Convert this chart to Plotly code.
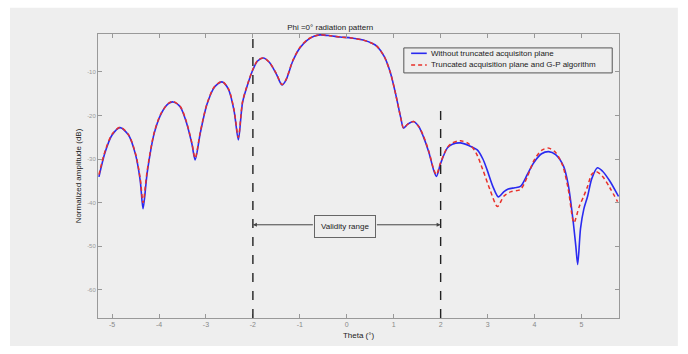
import plotly.graph_objects as go

theta_ref = [-5.28, -5.15, -5.0, -4.83, -4.65, -4.5, -4.40, -4.34, -4.25, -4.1, -3.95, -3.8, -3.70,
             -3.55, -3.42, -3.30, -3.23, -3.12, -2.98, -2.82, -2.66, -2.52, -2.40, -2.31, -2.22,
             -2.10, -2.0, -1.90, -1.78, -1.65, -1.50, -1.38, -1.30, -1.15, -1.0, -0.84, -0.70,
             -0.57, -0.35, -0.14, 0.1, 0.35, 0.55, 0.65, 0.80, 0.93, 1.05, 1.15, 1.21, 1.30,
             1.42, 1.53, 1.63, 1.75, 1.85, 1.91, 2.00, 2.14, 2.25, 2.42, 2.60, 2.78, 2.90,
             2.99, 3.12, 3.23, 3.35, 3.44, 3.58, 3.70, 3.85, 3.98, 4.15, 4.30, 4.45, 4.62,
             4.72, 4.82, 4.88, 4.92, 4.98, 5.05, 5.13, 5.22, 5.34, 5.45, 5.60, 5.79]
amp_ref = [-34.1, -28.5, -24.5, -22.8, -24.5, -29.0, -35.0, -41.4, -33.0, -24.0, -19.5, -17.3, -16.9,
           -18.0, -21.5, -26.5, -30.2, -24.0, -17.5, -13.5, -12.3, -14.0, -19.0, -25.6, -17.0,
           -12.5, -9.5, -7.5, -6.8, -7.8, -10.5, -13.0, -12.0, -7.5, -4.5, -2.7, -1.8,
           -1.5, -1.7, -2.0, -2.2, -2.7, -3.5, -4.2, -6.5, -10.2, -15.5, -20.5, -22.9, -22.0,
           -21.4, -22.5, -24.8, -28.5, -32.5, -34.0, -31.0, -27.5, -26.6, -26.3, -26.9, -27.9, -30.0,
           -32.5, -36.5, -38.7, -37.5, -36.9, -36.6, -36.3, -33.5, -30.9, -28.8, -28.3, -29.0, -31.7,
           -36.0, -44.0, -50.0, -54.2, -46.0, -41.5, -38.6, -34.5, -32.0, -32.8, -35.0, -38.6]

theta_gp = [-5.28, -5.15, -5.0, -4.83, -4.65, -4.5, -4.40, -4.34, -4.25, -4.1, -3.95, -3.8, -3.70,
            -3.55, -3.42, -3.30, -3.23, -3.12, -2.98, -2.82, -2.66, -2.52, -2.40, -2.31, -2.22,
            -2.10, -2.0, -1.90, -1.78, -1.65, -1.50, -1.38, -1.30, -1.15, -1.0, -0.84, -0.70,
            -0.57, -0.35, -0.14, 0.1, 0.35, 0.55, 0.65, 0.80, 0.93, 1.05, 1.15, 1.21, 1.30,
            1.42, 1.53, 1.63, 1.75, 1.85, 1.91, 2.00, 2.14, 2.25, 2.42, 2.60, 2.75, 2.90,
            3.05, 3.21, 3.35, 3.50, 3.70, 3.85, 3.98, 4.15, 4.30, 4.45, 4.60, 4.72, 4.84,
            4.95, 5.05, 5.13, 5.22, 5.32, 5.45, 5.60, 5.77]
amp_gp = [-33.6, -28.2, -24.3, -22.7, -24.4, -28.8, -34.5, -40.0, -32.5, -23.8, -19.4, -17.2, -16.8,
          -17.9, -21.3, -26.3, -29.8, -23.8, -17.4, -13.4, -12.2, -13.9, -18.8, -25.0, -16.8,
          -12.4, -9.4, -7.4, -6.8, -7.8, -10.4, -12.9, -11.9, -7.4, -4.4, -2.6, -1.8,
          -1.5, -1.7, -2.0, -2.2, -2.7, -3.5, -4.2, -6.5, -10.2, -15.5, -20.5, -22.9, -22.0,
          -21.4, -22.5, -24.6, -28.3, -32.3, -33.6, -30.8, -27.4, -26.3, -25.8, -26.5, -28.5, -32.5,
          -37.0, -40.9, -38.5, -37.5, -37.0, -34.0, -30.5, -28.0, -27.5, -28.5, -31.5, -37.0, -44.6,
          -41.0, -38.5, -36.3, -33.5, -32.9, -34.0, -36.5, -39.8]

x_ticks = [-5, -4, -3, -2, -1, 0, 1, 2, 3, 4, 5]
y_ticks = [-10, -20, -30, -40, -50, -60]
validity_bounds = [-2, 2]
legend_labels = ["Without truncated acquisiton plane", "Truncated acquisition plane and G-P algorithm"]

BLUE = "#2a2af0"
RED = "#e8302a"

fig = go.Figure()
fig.add_trace(go.Scatter(x=theta_ref, y=amp_ref, mode="lines",
                         line=dict(color=BLUE, width=1.6, shape="spline", smoothing=0.8),
                         name=legend_labels[0]))
fig.add_trace(go.Scatter(x=theta_gp, y=amp_gp, mode="lines",
                         line=dict(color=RED, width=1.5, dash="4px,3px", shape="spline", smoothing=0.8),
                         name=legend_labels[1]))

# background panel
fig.add_shape(type="rect", xref="paper", yref="paper", x0=-0.169, x1=1.113, y0=-0.099, y1=1.092,
              fillcolor="#eeeeee", line=dict(width=0), layer="below")

# validity range dashed lines
fig.add_shape(type="line", x0=validity_bounds[0], x1=validity_bounds[0], y0=-66.5, y1=-1.3,
              line=dict(color="#222222", width=1.4, dash="dash"))
fig.add_shape(type="line", x0=validity_bounds[1], x1=validity_bounds[1], y0=-66.5, y1=-17.6,
              line=dict(color="#222222", width=1.4, dash="dash"))

fig.add_annotation(x=-0.04, y=-45.4, text="Validity range", showarrow=False, font=dict(size=8, color="#222"),
                   bordercolor="#666", borderwidth=1, borderpad=6, bgcolor="#eeeeee")
fig.add_annotation(x=validity_bounds[0], y=-45.1, ax=-0.69, ay=-45.1, axref="x", ayref="y", text="",
                   showarrow=True, arrowhead=2, arrowsize=0.8, arrowwidth=1, arrowcolor="#444")
fig.add_annotation(x=validity_bounds[1], y=-45.1, ax=0.61, ay=-45.1, axref="x", ayref="y", text="",
                   showarrow=True, arrowhead=2, arrowsize=0.8, arrowwidth=1, arrowcolor="#444")

# custom compact legend (MATLAB style)
fig.add_shape(type="rect", xref="paper", yref="paper", x0=0.587, x1=0.987, y0=0.863, y1=0.951,
              fillcolor="#eeeeee", line=dict(color="#555", width=1))
fig.add_shape(type="line", xref="paper", yref="paper", x0=0.601, x1=0.631, y0=0.932, y1=0.932,
              line=dict(color=BLUE, width=1.6))
fig.add_shape(type="line", xref="paper", yref="paper", x0=0.601, x1=0.631, y0=0.891, y1=0.891,
              line=dict(color=RED, width=1.5, dash="4px,3px"))
for yy, lab in zip([0.932, 0.891], legend_labels):
    fig.add_annotation(xref="paper", yref="paper", x=0.636, y=yy, text=lab, showarrow=False,
                       xanchor="left", yanchor="middle", font=dict(size=8, color="#222"))

fig.update_layout(
    width=688, height=354,
    margin=dict(l=98, r=69, t=34, b=36),
    paper_bgcolor="#ffffff", plot_bgcolor="#eeeeee",
    font=dict(family="Liberation Sans, Arial, sans-serif", size=8, color="#333"),
    title=dict(text="Phi =0° radiation pattern", x=0.48, xanchor="center", y=0.924, yanchor="middle",
               font=dict(size=8, color="#222")),
    showlegend=False,
    hovermode=False,
    xaxis=dict(range=[-5.3, 5.8], tickvals=x_ticks, ticktext=[str(v) for v in x_ticks], ticks="inside", ticklen=4,
               showgrid=False, zeroline=False, showline=True, mirror="ticks", linecolor="#999", tickcolor="#999",
               tickfont=dict(size=7, color="#888"),
               title=dict(text="Theta (°)", font=dict(size=8, color="#222"), standoff=4)),
    yaxis=dict(range=[-66.5, -1.3], tickvals=y_ticks, ticktext=[str(v) for v in y_ticks], ticks="inside", ticklen=4,
               showgrid=False, zeroline=False, showline=True, mirror="ticks", linecolor="#999", tickcolor="#999",
               tickfont=dict(size=6, color="#999"),
               title=dict(text="Normalized amplitude (dB)", font=dict(size=8, color="#222"), standoff=4)),
)

fig.write_html("out.html", config={"displayModeBar": False, "staticPlot": True})

# remove default body margin so the figure sits at the window origin
with open("out.html", "r", encoding="utf-8") as f:
    html = f.read()
html = html.replace("<head>", "<head><style>html,body{margin:0;padding:0;overflow:hidden;}</style>", 1)
with open("out.html", "w", encoding="utf-8") as f:
    f.write(html)
